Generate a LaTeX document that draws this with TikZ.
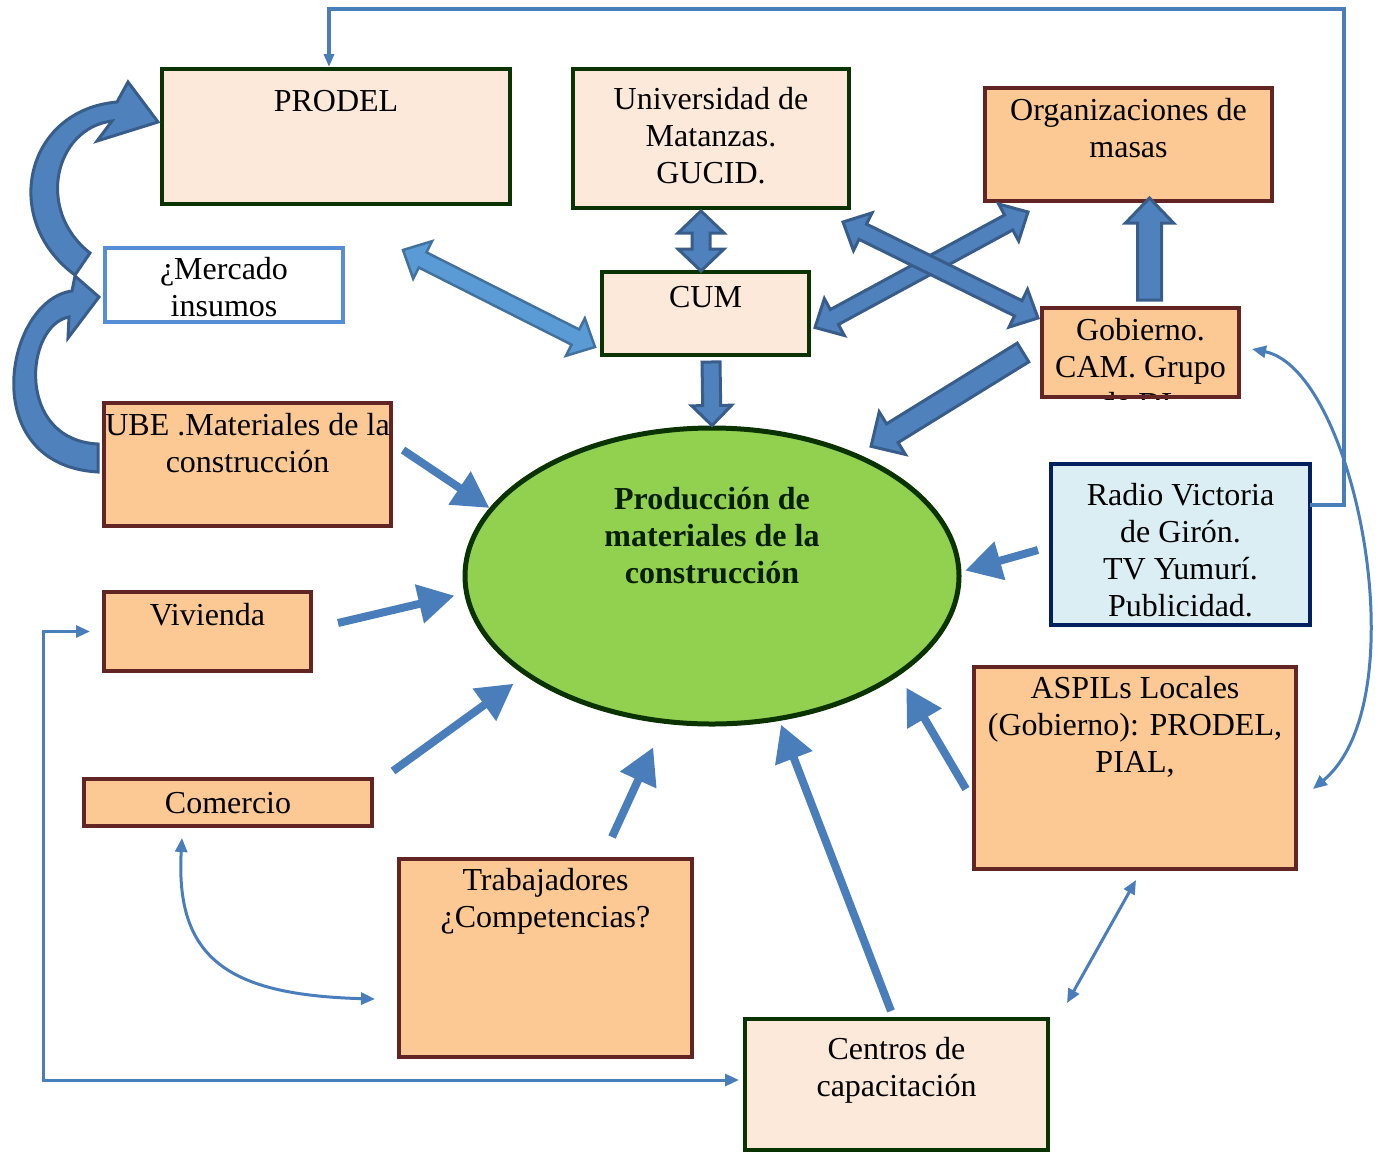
\documentclass[tikz,border=0pt]{standalone}
\usepackage{fontspec}
\setmainfont{Liberation Serif}
\usetikzlibrary{arrows.meta,calc,shapes.geometric}
\definecolor{peachL}{HTML}{FDE9D9}
\definecolor{peach}{HTML}{FCC894}
\definecolor{brownB}{HTML}{632523}
\definecolor{greenB}{HTML}{0A3300}
\definecolor{navyB}{HTML}{002060}
\definecolor{lineB}{HTML}{4A7EBB}
\definecolor{blkF}{HTML}{4F81BD}
\definecolor{blkD}{HTML}{385D8A}
\definecolor{merB}{HTML}{558ED5}
\definecolor{merF}{HTML}{5B9BD5}
\definecolor{merD}{HTML}{41719C}
\definecolor{radioF}{HTML}{DBEEF4}
\definecolor{ellF}{HTML}{92D050}

\newcommand\boxnode[8]{\node[#1, minimum width=#5, minimum height=#6] (#2) at (#3,#4) {\parbox[c][#6pt][t]{#5pt}{\vspace*{\dimexpr #7pt-23.9pt\relax}\centering\makebox[0pt]{\begin{tabular}[t]{@{}c@{}}#8\end{tabular}}}};}

\newcommand\blkone[6]{%
 \coordinate (bA) at #2; \coordinate (bB) at #3;
 \coordinate (bH) at ($(bB)!#6pt!(bA)$);
 \draw[#1] ($(bA)!#4pt!90:(bB)$) -- ($(bH)!#4pt!90:(bB)$) -- ($(bH)!#5pt!90:(bB)$) -- (bB) -- ($(bH)!#5pt!-90:(bB)$) -- ($(bH)!#4pt!-90:(bB)$) -- ($(bA)!#4pt!-90:(bB)$) -- cycle;}

\newcommand\blktwo[6]{%
 \coordinate (bA) at #2; \coordinate (bB) at #3;
 \coordinate (bHa) at ($(bA)!#6pt!(bB)$);
 \coordinate (bHb) at ($(bB)!#6pt!(bA)$);
 \draw[#1] (bA) -- ($(bHa)!#5pt!90:(bB)$) -- ($(bHa)!#4pt!90:(bB)$) -- ($(bHb)!#4pt!90:(bB)$) -- ($(bHb)!#5pt!90:(bB)$) -- (bB) -- ($(bHb)!#5pt!-90:(bB)$) -- ($(bHb)!#4pt!-90:(bB)$) -- ($(bHa)!#4pt!-90:(bB)$) -- ($(bHa)!#5pt!-90:(bB)$) -- cycle;}

\tikzset{
 basebox/.style={rectangle, inner sep=0pt, outer sep=0pt, line width=4.5pt},
 peachbox/.style={basebox, draw=brownB, fill=peach},
 lightbox/.style={basebox, draw=greenB, fill=peachL},
 mercbox/.style={basebox, draw=merB, fill=white, line width=3.5pt},
 radiobox/.style={basebox, draw=navyB, fill=radioF},
 thinln/.style={draw=lineB, line width=3pt},
 ttip/.tip={Triangle[length=14pt,width=12pt]},
 fatln/.style={draw=lineB, line width=8pt, -{Triangle[length=36pt,width=38pt]}},
 blkstyle/.style={fill=blkF, draw=blkD, line width=3pt, line join=miter},
 mercblk/.style={fill=merF, draw=merD, line width=2.5pt, line join=miter}
}

\begin{document}
\begin{tikzpicture}[x=1pt, y=-1pt, font=\fontsize{32}{37}\selectfont]
\useasboundingbox (0,0) rectangle (1380,1154);

% boxes
\boxnode{lightbox}{prodel}{336}{136.5}{348}{135}{40}{PRODEL}
\boxnode{lightbox}{univ}{711}{138.5}{276}{139}{38}{Universidad de\\Matanzas.\\GUCID.}
\boxnode{peachbox}{org}{1128.5}{144.5}{287}{113}{30}{Organizaciones de\\masas}
\boxnode{mercbox}{merc}{224}{285}{238}{74}{29}{¿Mercado\\insumos}
\boxnode{lightbox}{cum}{705.5}{313.5}{207}{83}{33}{CUM}
\begin{scope}
\clip (1040,306) rectangle (1241,399);
\boxnode{peachbox}{gob}{1140.5}{352.5}{197}{89}{30}{Gobierno.\\CAM. Grupo\\de DL}
\end{scope}
\draw[brownB, line width=4.5pt] (gob.south west) rectangle (gob.north east);
\boxnode{peachbox}{ube}{247.5}{464.5}{287}{123}{30}{UBE .Materiales de la\\construcción}
\boxnode{radiobox}{radio}{1180.5}{544.5}{259}{161}{39}{Radio Victoria\\de Girón.\\TV Yumurí.\\Publicidad.}
\boxnode{peachbox}{viv}{207.5}{631.5}{207}{79}{31}{Vivienda}
\boxnode{peachbox}{asp}{1135}{768}{322}{202}{29}{ASPILs Locales\\(Gobierno): PRODEL,\\PIAL,}
\boxnode{peachbox}{com}{228}{802.5}{288}{47}{32}{Comercio}
\boxnode{peachbox}{trab}{545.5}{958}{293}{198}{29}{Trabajadores\\¿Competencias?}
\boxnode{lightbox}{cen}{896.5}{1084.5}{303}{131}{38}{Centros de\\capacitación}

% ellipse
\node[ellipse, draw=greenB, fill=ellF, line width=5pt, minimum width=494, minimum height=296, inner sep=0pt] (prod) at (712,576) {};
\node[anchor=base, font=\fontsize{32}{37}\selectfont\bfseries, color=greenB!60!black, inner sep=0pt] (prodtxt) at (712,509) {\begin{tabular}[t]{@{}c@{}}Producción de\\materiales de la\\construcción\end{tabular}};

% thin connectors
\coordinate (topR) at (1344,9);
\coordinate (botL) at (43,1080);
\draw[thinln, line width=3.5pt, -{Triangle[length=13pt,width=10pt]}] ($(radio.east)+(0,-39.5)$) -| (topR) -| ($(prodel.north)+(-7,-2)$);
\draw[thinln, {ttip}-{ttip}] ($(viv.west)+(-14,0)$) -| (botL) -- ($(cen.west)+(-6,-4.5)$);
\draw[thinln, {ttip}-{ttip}] ($(com.south)+(-46,12)$) .. controls (175,960) and (230,995) .. ($(trab.west)+(-24,41)$);
\draw[thinln, {ttip}-{ttip}] ($(gob.east)+(13,-3.5)$) .. controls (1355,370) and (1420,700) .. ($(asp.east)+(17,21)$);
\draw[thinln, {ttip}-{ttip}] ($(cen.north east)+(19,-16)$) -- ($(asp.south)+(1,11)$);

% fat arrows into ellipse
\draw[fatln] ($(ube.east)+(12,-14.5)$) -- (prod.163);
\draw[fatln, shorten >=10pt] ($(viv.east)+(27,-8.5)$) -- (prod.184);
\draw[fatln, shorten >=14pt] ($(com.north east)+(21,-8)$) -- (prod.208);
\draw[fatln, shorten >=26pt] ($(trab.north)+(66.5,-22)$) -- (prod.252);
\draw[fatln, shorten >=4pt] ($(cen.north)+(-5.5,-8)$) -- (prod.295);
\draw[fatln, shorten >=14pt] ($(asp.west)+(-8,21)$) -- (prod.332);
\draw[fatln, shorten >=4pt] ($(radio.west)+(-13,5.5)$) -- (prod.1);

% block arrows
\blktwo{blkstyle}{($(univ.south)+(-10,3)$)}{($(cum.north)+(-4.5,-1)$)}{9}{23}{22}
\blkone{blkstyle}{($(cum.south)+(5.5,7)$)}{(prod.north)}{9}{20}{20}
\blkone{blkstyle}{($(gob.north)+(9,-8)$)}{($(org.south)+(21,-3)$)}{12}{24}{25}
\blkone{blkstyle}{($(gob.west)+(-19,0)$)}{($(prod.39)+(10,-9)$)}{11}{25}{25}
\blktwo{blkstyle}{($(cum.east)+(6,14)$)}{($(org.south west)+(43,11)$)}{8.5}{21}{22}
\blktwo{blkstyle}{($(univ.south east)+(-6,14)$)}{($(gob.west)+(-4,-34.5)$)}{8.5}{21}{22}
\blktwo{mercblk}{($(merc.east)+(60,-35)$)}{($(cum.west)+(-7,33.5)$)}{8.5}{21}{22}

% curved block arrows (left)
\draw[blkstyle] (75,275) .. controls (0,220) and (25,110) .. (117,102) -- (128,82) -- (158,122) -- (97,141) -- (112,121) .. controls (55,128) and (35,210) .. (90,253) -- cycle;
\draw[blkstyle] (98,472) .. controls (-25,465) and (5,300) .. (72,291) -- (75,276) -- (99,297) -- (68,338) -- (69,317) .. controls (25,325) and (15,440) .. (98,444) -- cycle;
\end{tikzpicture}
\end{document}
